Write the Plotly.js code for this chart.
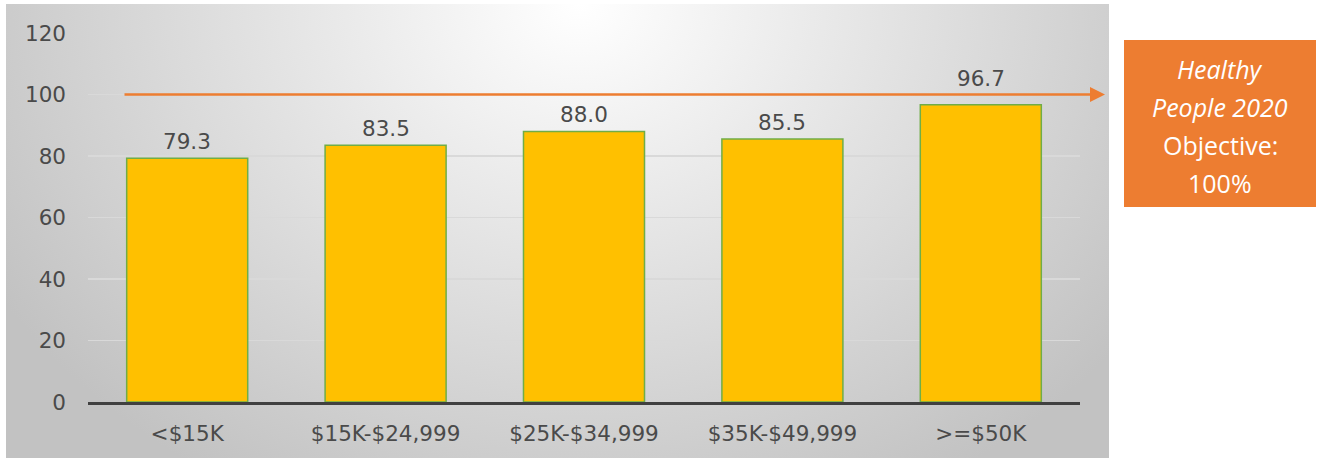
<!DOCTYPE html>
<html>
<head>
<meta charset="utf-8">
<script src="https://cdn.plot.ly/plotly-3.0.1.min.js"></script>
<style>
  html, body { margin: 0; padding: 0; background: #ffffff; }
  #wrap { position: relative; width: 1319px; height: 460px; }
  #bg { position: absolute; left: 6px; top: 4px; width: 1103px; height: 454px;
        background: radial-gradient(ellipse 680px 560px at 52% 0%, #ffffff 0%, #c2c2c2 100%); }
  #chart { position: absolute; left: 0; top: 0; width: 1319px; height: 460px; }
</style>
</head>
<body>
<div id="wrap">
  <div id="bg"></div>
  <div id="chart"></div>
</div>
<script>
// ---- data ----
const categories = ['<$15K', '$15K-$24,999', '$25K-$34,999', '$35K-$49,999', '>=$50K'];
const values = [79.3, 83.5, 88.0, 85.5, 96.7];
const objective = 100;
const yTicks = [0, 20, 40, 60, 80, 100, 120];
const boxLines = ['<i>Healthy</i>', '<i>People 2020</i>', 'Objective:', '100%'];

// ---- layout helpers (pixels -> paper) ----
const W = 1319, H = 460;
const L = 88, R = 1080, T = 33, B = 402;
const px = x => (x - L) / (R - L);
const py = y => (B - y) / (B - T);

const textColor = '#4a4a4a';
const tickFont = { family: 'DejaVu Sans, sans-serif', size: 21.5, color: textColor };

const bars = {
  type: 'bar',
  x: categories,
  y: values,
  marker: { color: '#FFC000', line: { color: '#70AD47', width: 1.5 } },
  hoverinfo: 'x+y'
};

// value labels; a label that would collide with the objective arrow sits above it
const annotations = values.map((v, i) => ({
  x: categories[i], y: (v > objective - 8 ? objective : v), xref: 'x', yref: 'y',
  text: v.toFixed(1), showarrow: false,
  yanchor: 'bottom', yshift: 2,
  font: tickFont
}));

// target arrow at the objective value
annotations.push({
  x: px(1105), y: objective, xref: 'paper', yref: 'y',
  ax: -(1105 - 123), ay: 0, axref: 'pixel', ayref: 'pixel',
  text: '', showarrow: true,
  arrowhead: 2, arrowsize: 1.2, arrowwidth: 2.5, arrowcolor: '#ED7D31', standoff: 0
});

const lineY = [69, 107, 145, 183];
boxLines.forEach((t, i) => {
  annotations.push({
    x: px(1220), y: py(lineY[i]), xref: 'paper', yref: 'paper',
    text: t, showarrow: false, xanchor: 'center', yanchor: 'middle',
    font: { family: 'Open Sans, sans-serif', size: 25, color: '#ffffff' }
  });
});

const layout = {
  width: W, height: H,
  margin: { l: L, r: W - R, t: T, b: H - B, pad: 0 },
  paper_bgcolor: 'rgba(0,0,0,0)',
  plot_bgcolor: 'rgba(0,0,0,0)',
  bargap: 0.39,
  showlegend: false,
  xaxis: {
    showline: true, linecolor: '#404040', linewidth: 3,
    showgrid: false, zeroline: false, ticks: '',
    tickfont: tickFont, ticklabelstandoff: 10, fixedrange: true
  },
  yaxis: {
    range: [0, 120], tickvals: yTicks, ticktext: yTicks.map(String),
    showgrid: true, gridcolor: '#d9d9d9', gridwidth: 1.3,
    zeroline: false, showline: false, ticks: '',
    tickfont: tickFont, ticklabelstandoff: 21, fixedrange: true
  },
  shapes: [{
    type: 'rect', xref: 'paper', yref: 'paper',
    x0: px(1124), x1: px(1316), y0: py(207), y1: py(40),
    fillcolor: '#ED7D31', line: { width: 0 }, layer: 'below'
  }],
  annotations: annotations
};

Plotly.newPlot('chart', [bars], layout, { displayModeBar: false, staticPlot: true });
</script>
</body>
</html>
